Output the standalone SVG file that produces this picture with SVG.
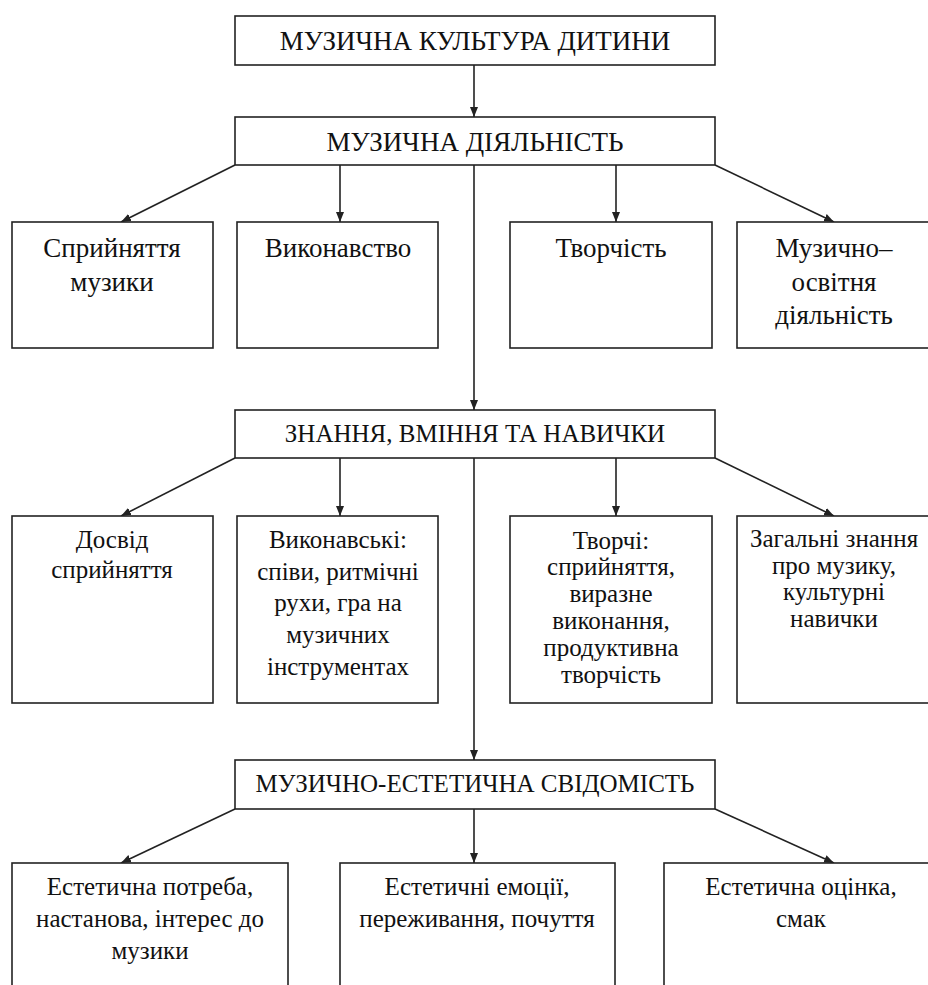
<svg xmlns="http://www.w3.org/2000/svg" width="928" height="985" viewBox="0 0 928 985">
<style>
rect{fill:#fff;stroke:#222;stroke-width:1.6}
text{font-family:"Liberation Serif","Times New Roman",serif;font-size:25px;fill:#111;text-anchor:middle}
.big text{font-size:27px}
.c line{stroke:#222;stroke-width:1.6}
</style>
<defs>
<marker id="ah" viewBox="0 0 10 10" refX="10" refY="5" markerWidth="10" markerHeight="10" markerUnits="userSpaceOnUse" orient="auto"><path d="M0,1 L10,5 L0,9 Z" fill="#222"/></marker>
</defs>
<rect width="928" height="985" style="fill:#fff;stroke:none"/>
<g class="c">
<line x1="474" y1="65" x2="474" y2="117" marker-end="url(#ah)"/>
<line x1="235" y1="165" x2="121" y2="222" marker-end="url(#ah)"/>
<line x1="340" y1="165" x2="340" y2="222" marker-end="url(#ah)"/>
<line x1="616" y1="165" x2="616" y2="222" marker-end="url(#ah)"/>
<line x1="715" y1="165" x2="834" y2="222" marker-end="url(#ah)"/>
<line x1="474" y1="165" x2="474" y2="410" marker-end="url(#ah)"/>
<line x1="235" y1="458" x2="121" y2="516" marker-end="url(#ah)"/>
<line x1="340" y1="458" x2="340" y2="516" marker-end="url(#ah)"/>
<line x1="616" y1="458" x2="616" y2="516" marker-end="url(#ah)"/>
<line x1="715" y1="458" x2="834" y2="516" marker-end="url(#ah)"/>
<line x1="474" y1="458" x2="474" y2="760" marker-end="url(#ah)"/>
<line x1="235" y1="809" x2="121" y2="863" marker-end="url(#ah)"/>
<line x1="474" y1="809" x2="474" y2="863" marker-end="url(#ah)"/>
<line x1="715" y1="809" x2="834" y2="863" marker-end="url(#ah)"/>
</g>
<g class="big">
<g id="n1"><rect x="235" y="16" width="480" height="49"/><text x="475" y="50">МУЗИЧНА КУЛЬТУРА ДИТИНИ</text></g>
<g id="n2"><rect x="235" y="117" width="480" height="48"/><text x="475" y="151">МУЗИЧНА ДІЯЛЬНІСТЬ</text></g>
<g id="n3"><rect x="12" y="222" width="201" height="126"/><text x="112" y="257">Сприйняття</text><text x="112" y="291">музики</text></g>
<g id="n4"><rect x="237" y="222" width="201" height="126"/><text x="338" y="257">Виконавство</text></g>
<g id="n5"><rect x="510" y="222" width="202" height="126"/><text x="611" y="257">Творчість</text></g>
<g id="n6"><rect x="737" y="222" width="200" height="126"/><text x="834" y="257">Музично–</text><text x="834" y="291">освітня</text><text x="834" y="324">діяльність</text></g>
</g>
<g id="n7"><rect x="235" y="410" width="480" height="48"/><text x="475" y="442">ЗНАННЯ, ВМІННЯ ТА НАВИЧКИ</text></g>
<g id="n8"><rect x="12" y="516" width="201" height="187"/><text x="112" y="548">Досвід</text><text x="112" y="578">сприйняття</text></g>
<g id="n9"><rect x="237" y="516" width="201" height="187"/><text x="338" y="548">Виконавські:</text><text x="338" y="580">співи, ритмічні</text><text x="338" y="611">рухи, гра на</text><text x="338" y="643">музичних</text><text x="338" y="675">інструментах</text></g>
<g id="n10"><rect x="510" y="516" width="202" height="187"/><text x="611" y="549">Творчі:</text><text x="611" y="575">сприйняття,</text><text x="611" y="602">виразне</text><text x="611" y="629">виконання,</text><text x="611" y="656">продуктивна</text><text x="611" y="683">творчість</text></g>
<g id="n11"><rect x="737" y="516" width="200" height="187"/><text x="834" y="547">Загальні знання</text><text x="834" y="574">про музику,</text><text x="834" y="600">культурні</text><text x="834" y="627">навички</text></g>
<g id="n12"><rect x="235" y="760" width="480" height="49"/><text x="475" y="792">МУЗИЧНО-ЕСТЕТИЧНА СВІДОМІСТЬ</text></g>
<g id="n13"><rect x="12" y="863" width="276" height="140"/><text x="150" y="895">Естетична потреба,</text><text x="150" y="927">настанова, інтерес до</text><text x="150" y="959">музики</text></g>
<g id="n14"><rect x="340" y="863" width="275" height="140"/><text x="477" y="895">Естетичні емоції,</text><text x="477" y="927">переживання, почуття</text></g>
<g id="n15"><rect x="664" y="863" width="275" height="140"/><text x="801" y="895">Естетична оцінка,</text><text x="801" y="927">смак</text></g>
</svg>
